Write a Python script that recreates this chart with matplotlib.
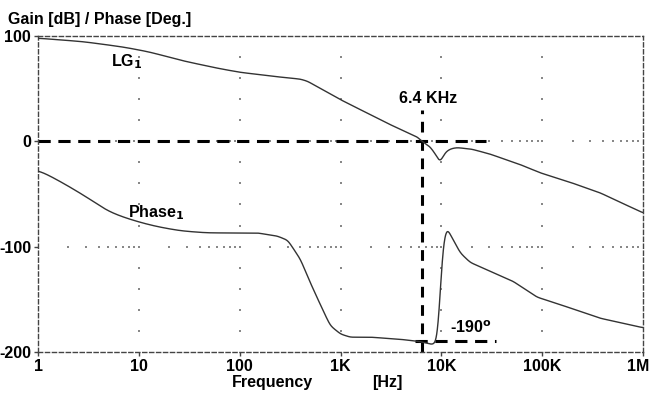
import numpy as np
import matplotlib.pyplot as plt
from matplotlib.transforms import ScaledTranslation

plt.rcParams['font.family'] = ['Liberation Sans', 'DejaVu Sans']
plt.rcParams['font.weight'] = 'bold'
plt.rcParams['mathtext.default'] = 'bf'

# Loop gain LG1 [dB]
lg_f = [1, 1.12, 2.8, 7, 12.9, 25.6, 59, 100, 250, 400, 470, 1000, 3000, 5800,
        6400, 7700, 9000, 9600, 11000, 12500, 14300, 20000, 30000, 60000,
        96000, 190000, 376000, 1000000]
lg_db = [98, 97.5, 94.6, 89.5, 84.7, 77, 69.5, 65.5, 61, 59, 57, 39.5, 16.5, 4,
         0, -5, -14, -21, -10, -7, -6, -7.5, -12, -22,
         -30, -39, -49, -68]

# Phase1 [deg]
ph_f = [1, 1.65, 2.3, 3.28, 4.84, 6.97, 10.3, 15.1, 25.7, 47.5, 149, 236, 300,
        400, 500, 630, 790, 1000, 1250, 2000, 3900, 6000, 8100, 9100, 9700,
        10200, 11200, 12500, 15400, 19300, 24000, 51500, 89000, 150000, 376000,
        1000000]
ph_deg = [-27, -38, -46, -55, -66, -72, -77, -81, -85, -87, -87, -90, -94,
          -112, -134, -155, -175, -183, -186, -186, -188, -190, -193, -191, -150,
          -103, -81, -90, -106, -115, -119, -133, -148, -155, -168,
          -177]

x_ticks = [1, 10, 100, 1e3, 1e4, 1e5, 1e6]
x_labels = ['1', '10', '100', '1K', '10K', '100K', '1M']
y_ticks = [-200, -100, 0, 100]

f_cross = 6400
phase_ref = -190


def gauss(v, du, sigma):
    k = np.arange(-int(4 * sigma / du), int(4 * sigma / du) + 1) * du
    w = np.exp(-0.5 * (k / sigma) ** 2)
    w /= w.sum()
    vpad = np.pad(v, len(k) // 2, mode='edge')
    return np.convolve(vpad, w, mode='valid')


def smooth_curve(fp, vp, sigma=0.02, sigma_lo=0.07):
    # wider smoothing below ~100 Hz where the curves are gentle
    u = np.linspace(0, 6, 3000)
    v = np.interp(u, np.log10(fp), vp)
    du = u[1] - u[0]
    a = gauss(v, du, sigma)
    b = gauss(v, du, sigma_lo)
    t = np.clip((u - 1.8) / 0.4, 0, 1)
    return 10 ** u, b * (1 - t) + a * t


fig = plt.figure(figsize=(6.52, 3.95), dpi=100)
ax = fig.add_axes([0.0583, 0.109, 0.928, 0.8])
ax.set_xscale('log')
ax.set_xlim(1, 1e6)
ax.set_ylim(-200, 100)

# dotted grid
dec = [10, 100, 1e3, 1e4, 1e5]
gx, gy = np.meshgrid(dec, np.arange(-180, 100, 20))
ax.scatter(gx.ravel(), gy.ravel(), s=1.2, marker='s', color='#888888', lw=0, zorder=1)
minor = [k * 10 ** d for d in range(6) for k in range(2, 10)]
for yv in (0, -100):
    ax.scatter(minor + dec, [yv] * (len(minor) + len(dec)), s=1.2, marker='s',
               color='#888888', lw=0, zorder=1)

# curves
x1, y1 = smooth_curve(lg_f, lg_db)
x2, y2 = smooth_curve(ph_f, ph_deg)
ax.plot(x1, y1, color='#333333', lw=1.0, zorder=3)
ax.plot(x2, y2, color='#333333', lw=1.0, zorder=3)

# marker lines
ax.plot([1, 28000], [0, 0], color='black', lw=2.2, ls=(0, (4, 2.5)), zorder=2)
ax.plot([f_cross, f_cross], [-200, 30], color='black', lw=2.2, ls=(0, (3.5, 2.5)), zorder=2)
ax.plot([5500, 35000], [phase_ref] * 2, color='black', lw=2.2,
        ls=(0, (4, 2.5)), zorder=2)

# frame
for s in ax.spines.values():
    s.set_linestyle((0, (3, 2)))
    s.set_color('#444444')
    s.set_linewidth(1.0)

fs = 11.5
ax.set_xticks(x_ticks)
ax.set_xticklabels(x_labels, fontweight='bold')
ax.set_xticks([], minor=True)
ax.set_yticks(y_ticks)
ax.set_yticklabels([str(v) for v in y_ticks], fontweight='bold')
ax.tick_params(length=3, width=1, color='#444444', labelsize=fs, pad=2)
# pull "1M" a little inward so it stays on the canvas
lab = ax.get_xticklabels()[-1]
lab.set_transform(lab.get_transform() + ScaledTranslation(-5 / 100, 0, fig.dpi_scale_trans))

fig.text(0.012, 0.94, 'Gain [dB] / Phase [Deg.]', fontsize=fs, fontweight='bold')
fig.text(0.356, 0.02, 'Frequency', fontsize=fs, fontweight='bold')
fig.text(0.571, 0.02, '[Hz]', fontsize=fs, fontweight='bold')

ax.text(7.5, 76, r'LG$_\mathbf{1}$', fontsize=fs, fontweight='bold', ha='center', va='center')
ax.text(7.8, -68, r'Phase$_\mathbf{1}$', fontsize=fs, fontweight='bold', ha='left', va='center')
ax.text(7400, 41, '6.4 KHz', fontsize=fs, fontweight='bold', ha='center', va='center')
ax.text(12200, -177, r'-190$^\mathbf{o}$', fontsize=fs, fontweight='bold', ha='left', va='center')

fig.savefig('out.png', dpi=100)
